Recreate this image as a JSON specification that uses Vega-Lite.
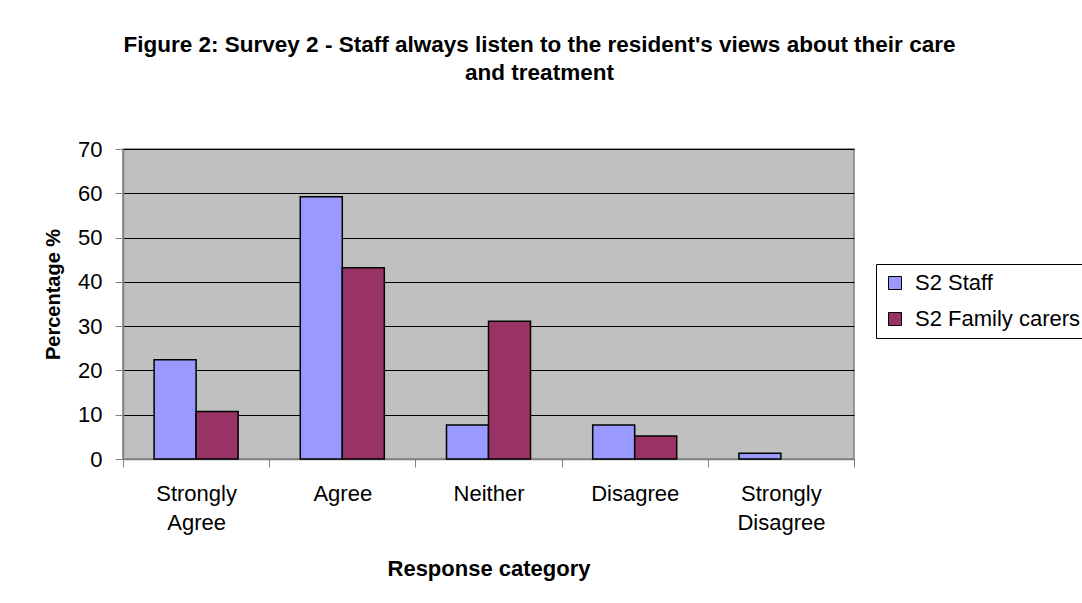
{
  "$schema": "https://vega.github.io/schema/vega-lite/v6.json",
  "width": 731,
  "height": 310,
  "autosize": {"type": "none"},
  "padding": {"left": 123, "top": 149, "right": 228, "bottom": 144},
  "background": "white",
  "title": {
    "text": ["Figure 2: Survey 2 - Staff always listen to the resident's views about their care", "and treatment"],
    "font": "Liberation Sans",
    "fontSize": 22.5,
    "fontWeight": "bold",
    "color": "black",
    "anchor": "middle",
    "dx": 51,
    "offset": 54,
    "lineHeight": 28
  },
  "data": {
    "values": [
      {"category": "Strongly Agree", "group": "S2 Staff", "value": 22.4},
      {"category": "Strongly Agree", "group": "S2 Family carers", "value": 10.7},
      {"category": "Agree", "group": "S2 Staff", "value": 59.2},
      {"category": "Agree", "group": "S2 Family carers", "value": 43.2},
      {"category": "Neither", "group": "S2 Staff", "value": 7.7},
      {"category": "Neither", "group": "S2 Family carers", "value": 31.1},
      {"category": "Disagree", "group": "S2 Staff", "value": 7.7},
      {"category": "Disagree", "group": "S2 Family carers", "value": 5.2},
      {"category": "Strongly Disagree", "group": "S2 Staff", "value": 1.3}
    ]
  },
  "mark": {"type": "bar", "stroke": "black", "strokeWidth": 1.5},
  "encoding": {
    "x": {
      "field": "category",
      "type": "nominal",
      "sort": ["Strongly Agree", "Agree", "Neither", "Disagree", "Strongly Disagree"],
      "scale": {"paddingInner": 0, "paddingOuter": 0},
      "axis": {
        "title": "Response category",
        "titleFont": "Liberation Sans",
        "titleFontSize": 22,
        "titleFontWeight": "bold",
        "titleColor": "black",
        "titlePadding": 25,
        "labelFont": "Liberation Sans",
        "labelFontSize": 22,
        "labelColor": "black",
        "labelAngle": 0,
        "labelPadding": 16,
        "labelLineHeight": 29,
        "labelExpr": "split(datum.label, ' ')",
        "tickBand": "extent",
        "tickSize": 8,
        "tickColor": "#808080",
        "domainColor": "#808080",
        "domainWidth": 1.5
      }
    },
    "xOffset": {
      "field": "group",
      "type": "nominal",
      "sort": ["S2 Staff", "S2 Family carers"],
      "scale": {"domain": ["S2 Staff", "S2 Family carers"], "paddingInner": 0, "paddingOuter": 0.74}
    },
    "y": {
      "field": "value",
      "type": "quantitative",
      "scale": {"domain": [0, 70]},
      "axis": {
        "title": "Percentage %",
        "titleFont": "Liberation Sans",
        "titleFontSize": 20,
        "titleFontWeight": "bold",
        "titleColor": "black",
        "titlePadding": 14,
        "titleY": 145,
        "labelFont": "Liberation Sans",
        "labelFontSize": 22,
        "labelColor": "black",
        "labelPadding": 13,
        "values": [0, 10, 20, 30, 40, 50, 60, 70],
        "tickSize": 8,
        "tickColor": "#808080",
        "domainColor": "#808080",
        "domainWidth": 1.5,
        "grid": true,
        "gridColor": "black",
        "gridWidth": 1
      }
    },
    "color": {
      "field": "group",
      "type": "nominal",
      "sort": ["S2 Staff", "S2 Family carers"],
      "scale": {"domain": ["S2 Staff", "S2 Family carers"], "range": ["#9999FF", "#993366"]},
      "legend": {
        "title": null,
        "orient": "none",
        "legendX": 753,
        "legendY": 115,
        "strokeColor": "black",
        "fillColor": "white",
        "padding": 8,
        "labelFont": "Liberation Sans",
        "labelFontSize": 22,
        "labelColor": "black",
        "labelLimit": 400,
        "symbolType": "square",
        "symbolSize": 169,
        "symbolStrokeColor": "black",
        "symbolStrokeWidth": 1,
        "symbolOpacity": 1,
        "rowPadding": 14,
        "labelOffset": 9
      }
    }
  },
  "config": {
    "view": {"fill": "#C0C0C0", "stroke": "#808080", "strokeWidth": 1.5},
    "axis": {"gridDash": []}
  }
}
